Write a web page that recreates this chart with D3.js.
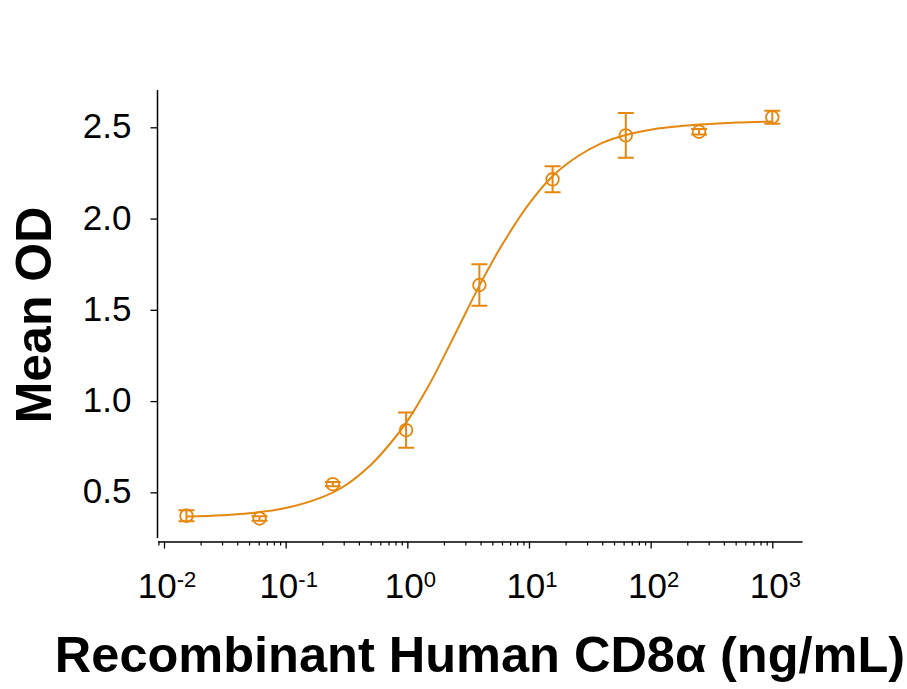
<!DOCTYPE html>
<html>
<head>
<meta charset="utf-8">
<script src="https://cdn.jsdelivr.net/npm/d3@7"></script>
<style>
  body { margin: 0; background: #fff; }
  text { font-family: Arial, "Liberation Sans", sans-serif; fill: #000; }
</style>
</head>
<body>
<div id="chart"></div>
<script>
// data
const conc = [0.0153, 0.061, 0.244, 0.977, 3.91, 15.63, 62.5, 250, 1000];
const meanOD = [0.372, 0.357, 0.545, 0.841, 1.636, 2.215, 2.456, 2.476, 2.555];
const errOD = [0.03, 0.012, 0.012, 0.096, 0.114, 0.071, 0.123, 0.015, 0.036];

// fitted curve
const fitConc = [0.0153, 0.03, 0.05, 0.1, 0.2, 0.3, 0.5, 0.75, 1, 1.5, 2, 3, 4, 6, 10, 15.6, 25, 40, 62.5, 100, 250, 500, 1000];
const fitOD = [0.367, 0.375, 0.385, 0.414, 0.474, 0.532, 0.65, 0.78, 0.89, 1.085, 1.245, 1.48, 1.645, 1.855, 2.08, 2.232, 2.34, 2.415, 2.458, 2.487, 2.515, 2.526, 2.532];

const yTicks = [0.5, 1.0, 1.5, 2.0, 2.5];
const xMajor = [0.01, 0.1, 1, 10, 100, 1000];
const xExp = ["-2", "-1", "0", "1", "2", "3"];

const width = 907, height = 689;
const color = "#e6870f";

const svg = d3.select("#chart")
    .append("svg")
    .attr("width", width)
    .attr("height", height);

// scales
const xBase = d3.scaleLog().domain([0.01, 1000]).range([164, 772.3]);
const x = xBase.copy().domain([xBase.invert(157.5), xBase.invert(802)]).range([157.5, 802]);
const y = d3.scaleLinear().domain([0.24, 2.7]).range([539.8, 90.8]);

// y axis
const yAxis = svg.append("g")
    .attr("transform", "translate(157.5,0)")
    .call(d3.axisLeft(y).tickValues(yTicks).tickFormat(d3.format(".1f"))
        .tickSize(7).tickSizeOuter(0).tickPadding(19));
yAxis.select(".domain").attr("stroke-width", 1.5).attr("d", "M0," + 538 + "V" + 90);
yAxis.selectAll(".tick line").attr("stroke-width", 1.3);
yAxis.selectAll(".tick text")
    .style("font-size", "35px")
    .attr("font-family", null)
    .attr("dy", "0.3em");

// x axis: minor ticks
const minor = [];
for (let d = -3; d <= 3; d++) {
    for (let k = 2; k <= 9; k++) {
        const v = k * Math.pow(10, d);
        if (v >= x.domain()[0] && v <= x.domain()[1]) minor.push(v);
    }
}
const xMinor = svg.append("g")
    .attr("transform", "translate(0,541.5)")
    .call(d3.axisBottom(x).tickValues(minor).tickFormat("").tickSize(4).tickSizeOuter(0));
xMinor.selectAll(".tick line").attr("stroke-width", 1.2);
xMinor.select(".domain").attr("stroke-width", 1.5);

const xAxis = svg.append("g")
    .attr("transform", "translate(0,541.5)")
    .call(d3.axisBottom(x).tickValues(xMajor).tickFormat("").tickSize(7).tickSizeOuter(0));
xAxis.select(".domain").remove();
xAxis.selectAll(".tick line").attr("stroke-width", 1.3);

// x tick labels with superscripts
const xl = svg.append("g").selectAll("text")
    .data(xMajor)
    .join("text")
    .attr("x", d => x(d) + 3)
    .attr("y", 598)
    .attr("text-anchor", "middle");
xl.append("tspan").style("font-size", "35px").text("10");
xl.append("tspan").style("font-size", "22px").attr("dy", -11)
    .text((d, i) => xExp[i]);

// axis titles
svg.append("text")
    .attr("x", 480)
    .attr("y", 672)
    .attr("text-anchor", "middle")
    .style("font-size", "50.5px")
    .style("font-weight", "bold")
    .text("Recombinant Human CD8α (ng/mL)");

svg.append("text")
    .attr("transform", "translate(51,315) rotate(-90)")
    .attr("text-anchor", "middle")
    .style("font-size", "50px")
    .style("font-weight", "bold")
    .text("Mean OD");

// fitted curve
const line = d3.line()
    .x(d => x(d[0]))
    .y(d => y(d[1]))
    .curve(d3.curveCatmullRom.alpha(0.5));
svg.append("path")
    .datum(fitConc.map((c, i) => [c, fitOD[i]]))
    .attr("d", line)
    .attr("fill", "none")
    .attr("stroke", color)
    .attr("stroke-width", 2);

// error bars and points
const pts = conc.map((c, i) => ({ c: c, m: meanOD[i], e: errOD[i] }));
const g = svg.append("g").attr("stroke", color).attr("fill", "none");

g.selectAll(".bar")
    .data(pts)
    .join("path")
    .attr("class", "bar")
    .attr("stroke-width", 2)
    .attr("d", d => {
        const cx = x(d.c), y0 = y(d.m - d.e), y1 = y(d.m + d.e);
        return "M" + (cx - 8) + "," + y0 + "H" + (cx + 8) +
            "M" + (cx - 8) + "," + y1 + "H" + (cx + 8) +
            "M" + cx + "," + y0 + "V" + y1;
    });

g.selectAll("circle")
    .data(pts)
    .join("circle")
    .attr("cx", d => x(d.c))
    .attr("cy", d => y(d.m))
    .attr("r", 6.3)
    .attr("stroke-width", 1.8);
</script>
</body>
</html>
